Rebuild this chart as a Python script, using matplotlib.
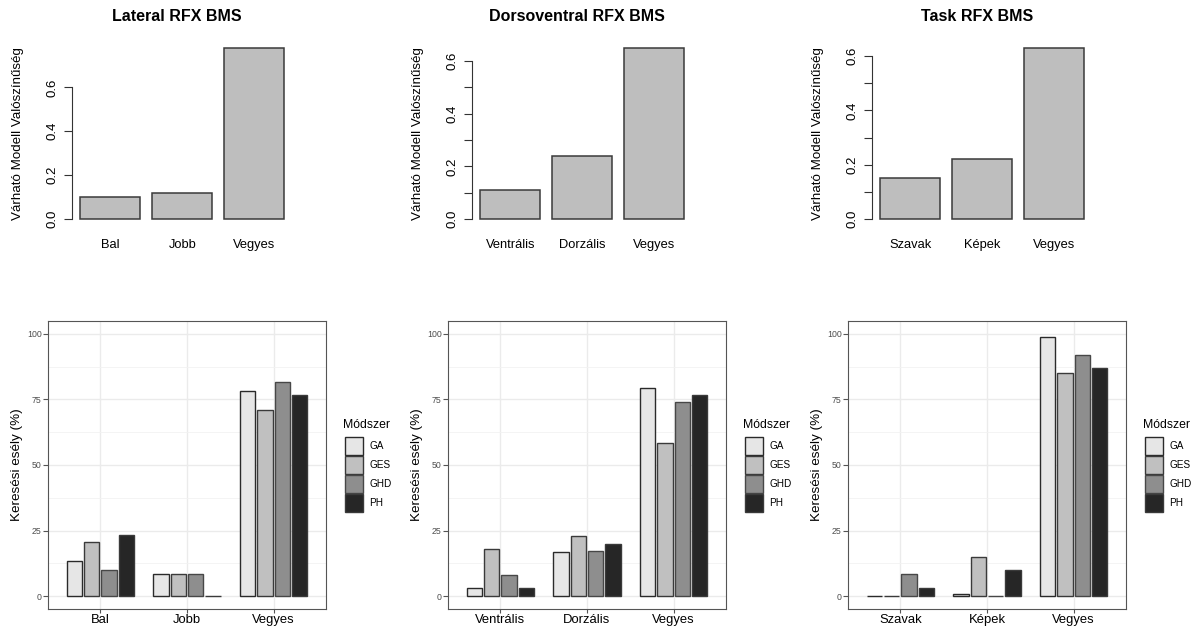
import numpy as np
import matplotlib
matplotlib.use('Agg')
import matplotlib.pyplot as plt
from matplotlib.patches import Rectangle

plt.rcParams['font.family'] = ['Liberation Sans', 'DejaVu Sans']

# top row: RFX BMS expected model probabilities
top_titles = ['Lateral RFX BMS', 'Dorsoventral RFX BMS', 'Task RFX BMS']
lateral_cats = ['Bal', 'Jobb', 'Vegyes']
dorso_cats = ['Ventrális', 'Dorzális', 'Vegyes']
task_cats = ['Szavak', 'Képek', 'Vegyes']
lateral_prob = [0.10, 0.12, 0.78]
dorso_prob = [0.11, 0.24, 0.65]
task_prob = [0.15, 0.22, 0.63]

# bottom row: search chance (%) per method
methods = ['GA', 'GES', 'GHD', 'PH']
# rows = methods, cols = categories
lateral_pct = [[13.3, 8.3, 78.3],
               [20.8, 8.3, 70.8],
               [10.0, 8.3, 81.7],
               [23.3, 0.0, 76.7]]
dorso_pct = [[3.3, 16.9, 79.5],
             [18.1, 23.1, 58.3],
             [8.0, 17.2, 74.1],
             [3.3, 19.9, 76.7]]
task_pct = [[0.0, 1.0, 98.7],
            [0.0, 14.8, 85.0],
            [8.3, 0.0, 91.8],
            [3.3, 9.9, 86.8]]

fills = ['#E6E6E6', '#C0C0C0', '#8E8E8E', '#262626']
edges = ['#2a2a2a', '#3a3a3a', '#474747', '#3a3a3a']

W, H = 1199, 630
fig = plt.figure(figsize=(W / 100, H / 100), dpi=100)


def px_axes(x0, y0, x1, y1):
    return fig.add_axes([x0 / W, 1 - y1 / H, (x1 - x0) / W, (y1 - y0) / H])


offsets = [0, 400, 800]
top_data = [(lateral_cats, lateral_prob), (dorso_cats, dorso_prob), (task_cats, task_prob)]
top_steps = [0.2, 0.1, 0.1]

for k, (cats, vals) in enumerate(top_data):
    off = offsets[k]
    ax = px_axes(off + 72.1, 41.2, off + 292.5, 225.8)
    x = 0.7 + 1.2 * np.arange(len(vals))
    ax.bar(x, vals, width=1.0, color='#BEBEBE', edgecolor='#3a3a3a', linewidth=1.1)
    m = max(vals)
    ax.set_xlim(0.064, 3.736)
    ax.set_ylim(-0.04 * m, 1.04 * m)
    for s in ['top', 'right', 'bottom']:
        ax.spines[s].set_visible(False)
    ticks = np.round(np.arange(0, 0.6001, top_steps[k]), 2)
    ax.spines['left'].set_bounds(0, ticks[-1])
    ax.spines['left'].set_color('#333333')
    ax.set_yticks(ticks)
    labs = ['%.1f' % t if round(t * 10) % 2 == 0 else '' for t in ticks]
    ax.set_yticklabels(labs, rotation=90, va='center', fontsize=9.5)
    ax.tick_params(axis='y', length=5.8, pad=4.0, color='#333333')
    ax.set_xticks(x, cats, fontsize=9.3)
    ax.tick_params(axis='x', length=0, pad=9.2)
    ax.text(-0.245, 0.5, 'Várható Modell Valószínűség', rotation=90, ha='center',
            va='center', fontsize=9.6, transform=ax.transAxes)
    fig.text((off + 177) / W, 1 - 16.7 / H, top_titles[k], ha='center', va='center',
             fontsize=11.5, fontweight='bold')

bottom_data = [(lateral_cats, lateral_pct), (dorso_cats, dorso_pct), (task_cats, task_pct)]

for k, (cats, pct) in enumerate(bottom_data):
    off = offsets[k]
    ax = px_axes(off + 48.3, 320.7, off + 325.7, 609.3)
    xc = np.arange(1, len(cats) + 1)
    for j, name in enumerate(methods):
        ax.bar(xc + (j - 1.5) * 0.2, pct[j], width=0.18, color=fills[j],
               edgecolor=edges[j], linewidth=1.0, label=name, zorder=3)
    ax.set_xlim(0.4, 3.6)
    ax.set_ylim(-5, 105)
    ax.set_yticks([0, 25, 50, 75, 100])
    ax.set_yticks([12.5, 37.5, 62.5, 87.5], minor=True)
    ax.set_xticks(xc, cats)
    ax.grid(True, which='major', color='#EBEBEB', linewidth=1.0, zorder=0)
    ax.grid(True, which='minor', axis='y', color='#F2F2F2', linewidth=0.6, zorder=0)
    ax.set_axisbelow(True)
    for s in ax.spines.values():
        s.set_color('#555555')
        s.set_linewidth(0.8)
    ax.tick_params(axis='y', which='major', labelsize=6.3, labelcolor='#4D4D4D',
                   color='#555555', length=3.6, pad=1.2)
    ax.tick_params(axis='y', which='minor', length=0)
    ax.tick_params(axis='x', labelsize=9.4, labelcolor='black', color='#555555',
                   length=2.9, pad=0.5)
    ax.text(-0.114, 0.5, 'Keresési esély (%)', rotation=90, ha='center', va='center',
            fontsize=9.7, transform=ax.transAxes)

    # legend drawn by hand, ggplot-style stacked keys (pixel space)
    lg = px_axes(off + 338, 410, off + 400, 520)
    lg.set_xlim(off + 338, off + 400)
    lg.set_ylim(520, 410)
    lg.axis('off')
    lg.text(off + 343, 428.3, 'Módszer', ha='left', va='baseline', fontsize=8.8)
    key_h = 19.2
    for j, name in enumerate(methods):
        top = 436 + j * key_h
        lg.add_patch(Rectangle((off + 345, top + 0.5), 17.5, key_h - 1.0,
                               facecolor=fills[j], edgecolor=edges[j], linewidth=1.0))
        lg.text(off + 369.3, top + key_h / 2, name, ha='left', va='center', fontsize=7.2)

fig.savefig('out.png', dpi=100)
